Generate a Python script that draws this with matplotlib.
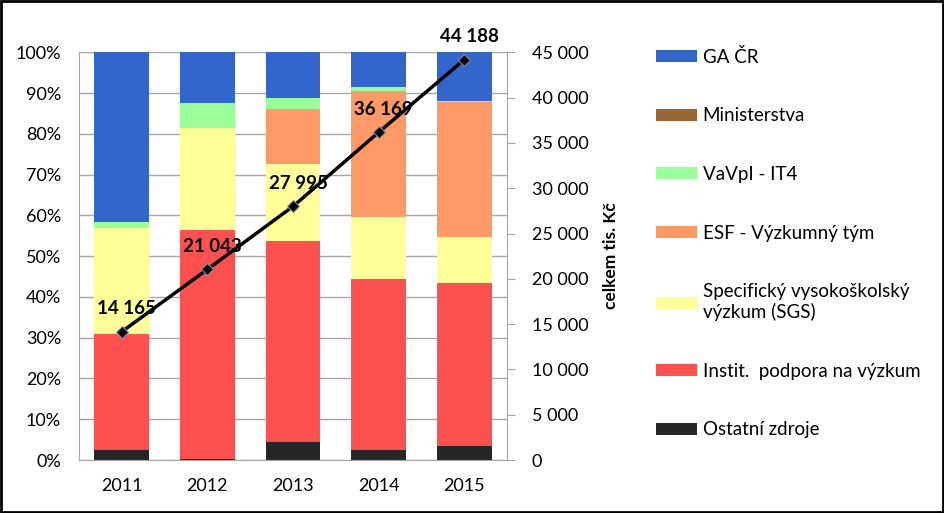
import numpy as np
import matplotlib
matplotlib.use("Agg")
import matplotlib.pyplot as plt
from matplotlib.patches import Rectangle, Patch
from matplotlib.ticker import FuncFormatter, MultipleLocator

plt.rcParams['font.family'] = ['Lato', 'DejaVu Sans']

# data (share of each source in %, total in tis. Kc)
roky = ['2011', '2012', '2013', '2014', '2015']
ostatni = [2.5, 0.3, 4.4, 2.5, 3.5]
instit = [28.5, 56.2, 49.2, 42.0, 40.0]
sgs = [26.0, 25.0, 18.9, 15.0, 11.3]
esf = [0.0, 0.0, 13.7, 30.9, 32.9]
vavpi = [1.5, 6.0, 2.7, 1.0, 0.3]
ministerstva = [0.0, 0.0, 0.0, 0.0, 0.0]
gacr = [41.5, 12.5, 11.1, 8.6, 12.0]
celkem = [14165, 21043, 27995, 36169, 44188]

serie = [
    ('Ostatní zdroje', ostatni, '#262626'),
    ('Instit.  podpora na výzkum', instit, '#FF5050'),
    ('Specifický vysokoškolský\nvýzkum (SGS)', sgs, '#FFFF99'),
    ('ESF - Výzkumný tým', esf, '#FF9966'),
    ('VaVpI - IT4', vavpi, '#99FF99'),
    ('Ministerstva', ministerstva, '#996633'),
    ('GA ČR', gacr, '#3366CC'),
]

fig = plt.figure(figsize=(9.45, 5.13), dpi=100)
ax = fig.add_axes([0.0836, 0.1033, 0.4529, 0.7947])

x = np.arange(len(roky))
spodek = np.zeros(len(roky))
for nazev, hodnoty, barva in serie:
    ax.bar(x, hodnoty, width=0.64, bottom=spodek, color=barva, zorder=2)
    spodek += np.array(hodnoty)

ax.set_xlim(-0.5, len(roky) - 0.5)
ax.set_ylim(0, 100)
ax.yaxis.set_major_locator(MultipleLocator(10))
ax.yaxis.set_major_formatter(FuncFormatter(lambda v, p: '%d%%' % v))
ax.set_xticks(x, roky)
ax.grid(axis='y', color='#A6A6A6', linewidth=1, zorder=0)
ax.tick_params(axis='both', length=0, labelsize=13, colors='black')
ax.tick_params(axis='x', pad=13)
ax.tick_params(axis='y', pad=13)
for s in ['top', 'right']:
    ax.spines[s].set_visible(False)
for s in ['left', 'bottom']:
    ax.spines[s].set_color('#A6A6A6')

# secondary axis with totals
ax2 = ax.twinx()
ax2.set_ylim(0, 45000)
ax2.yaxis.set_major_locator(MultipleLocator(5000))
ax2.yaxis.set_major_formatter(FuncFormatter(lambda v, p: '{:,.0f}'.format(v).replace(',', ' ')))
ax2.tick_params(axis='y', length=6, color='#A6A6A6', labelsize=13, pad=12)
for s in ['top', 'left', 'bottom']:
    ax2.spines[s].set_visible(False)
ax2.spines['right'].set_color('#A6A6A6')
ax2.set_ylabel('celkem tis. Kč', fontsize=12.5, fontweight='bold', labelpad=10)

ax2.plot(x, celkem, color='black', linewidth=2.5, marker='D', markersize=6,
         markerfacecolor='black', markeredgecolor='#7F8FA6', markeredgewidth=0.8, zorder=3)
for xi, v in zip(x, celkem):
    ax2.annotate('{:,}'.format(v).replace(',', ' '), (xi, v), xytext=(5, 23),
                 textcoords='offset pixels', ha='center', va='center',
                 fontsize=13.5, fontweight='bold', annotation_clip=False)

# legend in reverse order of stacking
handles = [Patch(facecolor=b, edgecolor='none') for _, _, b in serie][::-1]
labels = [n for n, _, _ in serie][::-1]
fig.legend(handles, labels, loc='upper left', bbox_to_anchor=(0.676, 0.94),
           frameon=False, fontsize=13.5, handlelength=2.2, handleheight=0.6,
           handletextpad=0.3, labelspacing=2.22)

fig.add_artist(Rectangle((0.001, 0.002), 0.997, 0.996, transform=fig.transFigure,
                         fill=False, edgecolor='black', linewidth=2))

fig.savefig('out.png', dpi=100)
